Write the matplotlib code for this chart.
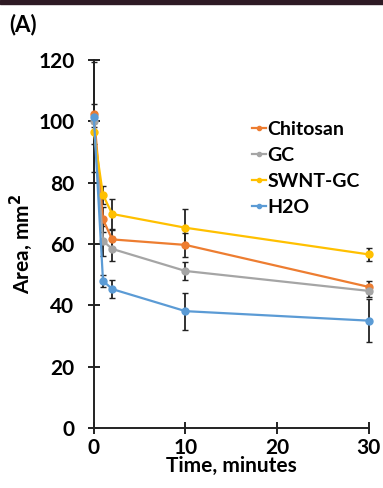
import matplotlib.pyplot as plt
from matplotlib.patches import Rectangle

# time points (minutes)
time = [0, 1, 2, 10, 30]

chitosan = [102.5, 68, 61.5, 59.7, 46]
gc = [100, 61, 58.4, 51.2, 44.7]
swnt_gc = [96.5, 76, 69.8, 65.3, 56.6]
h2o = [101.5, 48, 45.3, 38.1, 35]

chitosan_err = [3, 4, 3, 4, 2]
gc_err = [2, 5, 4, 3, 2]
swnt_gc_err = [4, 3, 5, 6, 2]
h2o_err = [18, 2, 3, 6, 7]

names = ['Chitosan', 'GC', 'SWNT-GC', 'H2O']
colors = ['#ed7d31', '#a5a5a5', '#ffc000', '#5b9bd5']

plt.rcParams['font.family'] = ['Lato', 'DejaVu Sans']
plt.rcParams['font.weight'] = 'bold'

fig = plt.figure(figsize=(3.83, 4.88), dpi=100)
# dark strip at the very top (crop of the source figure)
fig.patches.append(Rectangle((0, 0.992), 1, 0.008, transform=fig.transFigure,
                             color='#2e1a24', zorder=0))
ax = fig.add_axes([0.245, 0.123, 0.718, 0.754])

series = [chitosan, gc, swnt_gc, h2o]
errs = [chitosan_err, gc_err, swnt_gc_err, h2o_err]
for name, vals, err, c in zip(names, series, errs, colors):
    ax.errorbar(time, vals, yerr=err, fmt='none', ecolor='#222222',
                elinewidth=1.3, capsize=2, capthick=1, zorder=2, clip_on=False)
for name, vals, c in zip(names, series, colors):
    ax.plot(time, vals, color=c, marker='o', markersize=5, linewidth=1.6,
            label=name, zorder=3, clip_on=False)

ax.set_xlim(0, 30)
ax.set_ylim(0, 120)
ax.set_xticks([0, 10, 20, 30])
ax.set_yticks([0, 20, 40, 60, 80, 100, 120])
ax.spines['top'].set_visible(False)
ax.spines['right'].set_visible(False)
for s in ['left', 'bottom']:
    ax.spines[s].set_linewidth(1.4)
    ax.spines[s].set_color('#222222')
ax.tick_params(direction='inout', length=8, width=1.4, color='#222222',
               labelsize=15)
ax.tick_params(axis='x', pad=3)
ax.tick_params(axis='y', pad=10)
for lab in ax.get_xticklabels() + ax.get_yticklabels():
    lab.set_fontweight('bold')

ax.set_xlabel('Time, minutes', fontsize=15, fontweight='bold', labelpad=-1)
ax.set_ylabel('Area, mm$^\\mathbf{2}$', fontsize=15, fontweight='bold', labelpad=2)

fig.text(0.025, 0.935, '(A)', fontsize=16, fontweight='bold')

leg = ax.legend(loc='upper left', bbox_to_anchor=(0.54, 0.86), frameon=False,
                fontsize=14, handlelength=0.7, handletextpad=0.1,
                labelspacing=0.45, borderpad=0, markerscale=0.6)
for t in leg.get_texts():
    t.set_fontweight('bold')

fig.savefig('out.png', dpi=100)
